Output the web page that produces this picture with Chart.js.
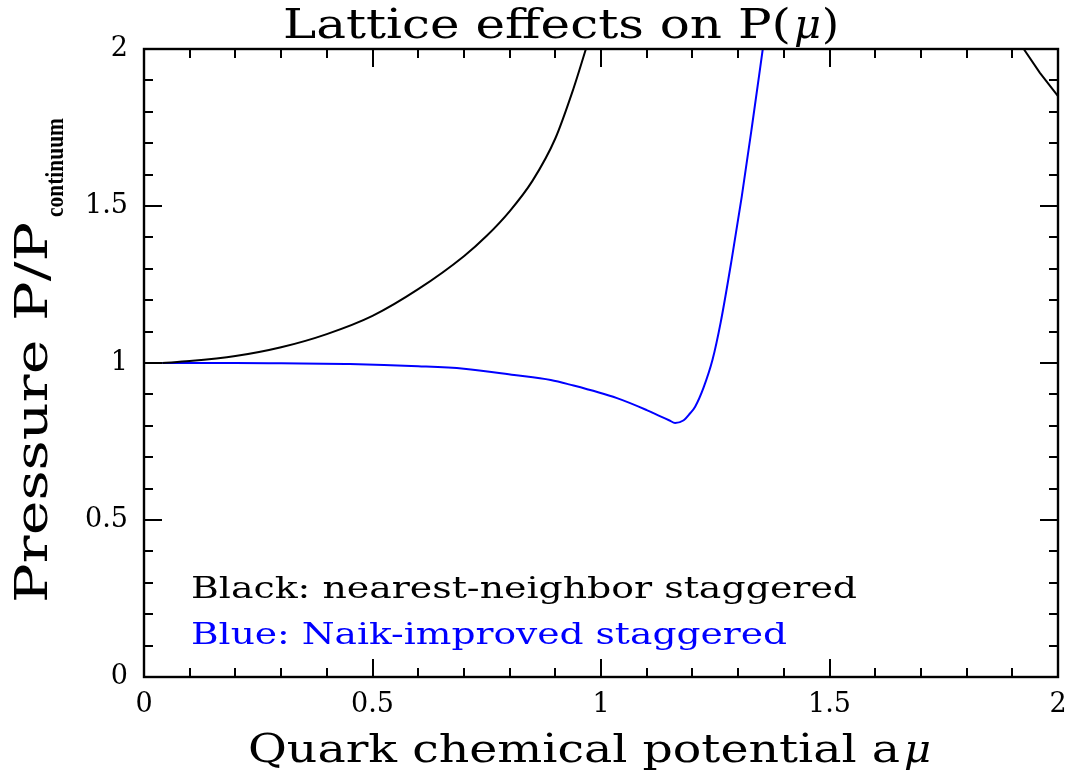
<!DOCTYPE html>
<html>
<head>
<meta charset="utf-8">
<script src="https://cdn.jsdelivr.net/npm/chart.js@4"></script>
<style>
  html, body { margin: 0; padding: 0; background: #fff; }
  canvas { display: block; }
</style>
</head>
<body>
<canvas id="c" width="1072" height="777"></canvas>
<script>
// nearest-neighbor staggered (black)
const naiveX = [0.04, 0.1, 0.2, 0.3, 0.4, 0.5, 0.6, 0.7, 0.75, 0.8, 0.85, 0.9, 0.94, 0.967];
const naiveY = [1.0, 1.006, 1.022, 1.05, 1.092, 1.15, 1.235, 1.34, 1.405, 1.483, 1.58, 1.715, 1.875, 2.0];
// second black branch, top right corner
const naiveX2 = [1.925, 1.96, 2.0];
const naiveY2 = [2.0, 1.925, 1.85];
// Naik-improved staggered (blue)
const naikX = [0.04, 0.2, 0.3, 0.45, 0.6, 0.7, 0.81, 0.89, 0.93, 1.035, 1.10, 1.13, 1.15, 1.162, 1.18, 1.195, 1.206, 1.224, 1.244, 1.262, 1.286, 1.308, 1.33, 1.354];
const naikY = [1.0, 1.0, 0.999, 0.997, 0.99, 0.982, 0.962, 0.946, 0.932, 0.888, 0.85, 0.83, 0.817, 0.809, 0.817, 0.84, 0.861, 0.92, 1.01, 1.13, 1.33, 1.53, 1.75, 2.0];

const xMin = 0, xMax = 2, yMin = 0, yMax = 2;
const majorStep = 0.5, minorStep = 0.1;

const pts = (xs, ys) => xs.map((x, i) => ({ x: x, y: ys[i] }));
const SERIF = "'DejaVu Serif', 'Liberation Serif', serif";

// draw a string stretched horizontally to a target width (0 = natural width)
function fitText(ctx, str, font, x, y, width, color) {
    ctx.font = font;
    const w = ctx.measureText(str).width;
    const sx = width > 0 ? width / w : 1;
    ctx.save();
    ctx.translate(x, y);
    ctx.scale(sx, 1);
    ctx.fillStyle = color;
    ctx.textAlign = 'left';
    ctx.textBaseline = 'alphabetic';
    ctx.fillText(str, 0, 0);
    ctx.restore();
}

const fmt = v => String(Math.round(v * 10) / 10);

const frameAndTicks = {
    id: 'frameAndTicks',
    afterDatasetsDraw(chart) {
        const { ctx, chartArea: a, scales } = chart;
        const sx = scales.x, sy = scales.y;
        ctx.save();
        ctx.strokeStyle = '#000';
        ctx.lineWidth = 2;
        ctx.lineCap = 'butt';
        ctx.beginPath();
        for (let i = 0; i <= Math.round((xMax - xMin) / minorStep); i++) {
            const v = xMin + i * minorStep;
            const len = (i % 5 === 0) ? 18 : 9;
            const px = Math.round(sx.getPixelForValue(v));
            ctx.moveTo(px, a.bottom); ctx.lineTo(px, a.bottom - len);
            ctx.moveTo(px, a.top); ctx.lineTo(px, a.top + len);
        }
        for (let i = 0; i <= Math.round((yMax - yMin) / minorStep); i++) {
            const v = yMin + i * minorStep;
            const len = (i % 5 === 0) ? 18 : 9;
            const py = Math.round(sy.getPixelForValue(v));
            ctx.moveTo(a.left, py); ctx.lineTo(a.left + len, py);
            ctx.moveTo(a.right, py); ctx.lineTo(a.right - len, py);
        }
        ctx.stroke();
        ctx.lineWidth = 2.4;
        ctx.strokeRect(a.left, a.top, a.right - a.left, a.bottom - a.top);
        ctx.restore();
    },
    afterDraw(chart) {
        const ctx = chart.ctx;
        ctx.save();
        // title
        fitText(ctx, 'Lattice effects on P(', '41px ' + SERIF, 283, 38, 508, '#000');
        fitText(ctx, 'μ', 'italic 41px ' + SERIF, 794, 38, 27, '#000');
        fitText(ctx, ')', '41px ' + SERIF, 822, 38, 17, '#000');
        // x title
        fitText(ctx, 'Quark chemical potential a', '40px ' + SERIF, 248, 762, 652, '#000');
        fitText(ctx, 'μ', 'italic 40px ' + SERIF, 904, 762, 27, '#000');
        // y title (rotated)
        ctx.save();
        ctx.translate(47, 603);
        ctx.rotate(-Math.PI / 2);
        fitText(ctx, 'Pressure P/P', '44px ' + SERIF, 0, 0, 381, '#000');
        ctx.restore();
        ctx.save();
        ctx.translate(63, 217);
        ctx.rotate(-Math.PI / 2);
        fitText(ctx, 'continuum', "bold 25px 'Liberation Serif', serif", 0, 0, 99, '#000');
        ctx.restore();
        // notes
        fitText(ctx, 'Black: nearest-neighbor staggered', '30px ' + SERIF, 191, 598, 666, '#000');
        fitText(ctx, 'Blue: Naik-improved staggered', '30px ' + SERIF, 191, 644, 596, '#0000ff');
        ctx.restore();
    }
};

new Chart(document.getElementById('c'), {
    type: 'line',
    data: {
        datasets: [
            { data: pts(naiveX, naiveY), borderColor: '#000', borderWidth: 2, pointRadius: 0, cubicInterpolationMode: 'monotone', fill: false },
            { data: pts(naiveX2, naiveY2), borderColor: '#000', borderWidth: 2, pointRadius: 0, fill: false },
            { data: pts(naikX, naikY), borderColor: '#0000ff', borderWidth: 2, pointRadius: 0, cubicInterpolationMode: 'monotone', fill: false }
        ]
    },
    options: {
        responsive: false,
        animation: false,
        devicePixelRatio: 1,
        layout: { padding: { top: 49, right: 14, left: 0, bottom: 0 } },
        plugins: { legend: { display: false }, tooltip: { enabled: false }, title: { display: false } },
        scales: {
            x: {
                type: 'linear', min: xMin, max: xMax,
                grid: { display: false, drawTicks: false },
                border: { display: false },
                ticks: { stepSize: majorStep, padding: 12, color: '#000', font: { family: SERIF, size: 27 }, maxRotation: 0, callback: fmt },
                afterFit: s => { s.height = 100; s.paddingLeft = 0; s.paddingRight = 0; }
            },
            y: {
                type: 'linear', min: yMin, max: yMax,
                grid: { display: false, drawTicks: false },
                border: { display: false },
                ticks: { stepSize: majorStep, padding: 16, color: '#000', font: { family: SERIF, size: 27 }, callback: fmt },
                afterFit: s => { s.width = 144; s.paddingTop = 0; s.paddingBottom = 0; }
            }
        }
    },
    plugins: [frameAndTicks]
});
</script>
</body>
</html>
